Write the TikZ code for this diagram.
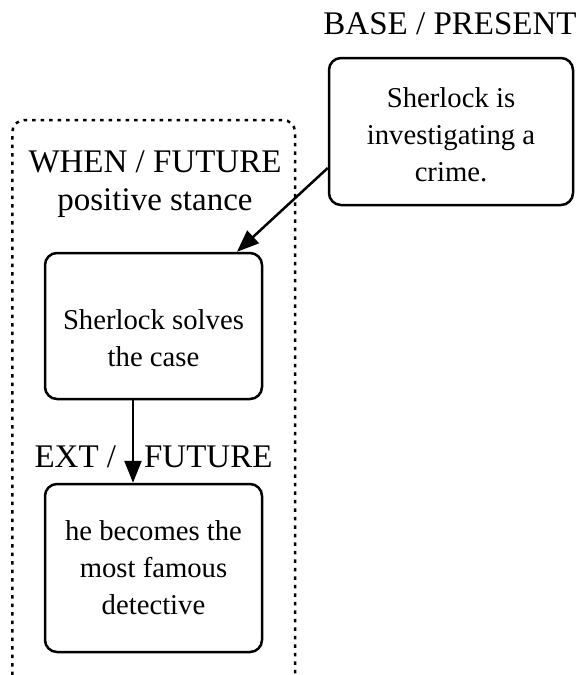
\documentclass[tikz,border=0pt]{standalone}
\usepackage{fontspec}
\setmainfont{Liberation Serif}
\usetikzlibrary{arrows.meta}
\begin{document}
\begin{tikzpicture}[x=1pt,y=-1pt,
  boxtext/.style={align=center,inner sep=0pt,font=\fontsize{28.7}{37}\selectfont},
  box/.style={draw,line width=2.5pt,rounded corners=12pt,boxtext},
  lbl/.style={align=center,inner sep=0pt,font=\fontsize{33}{38}\selectfont},
  arr/.style={line width=2.5pt,-{Triangle[length=22pt,width=17pt]}},
  clus/.style={line width=2.5pt,dash pattern=on 3.5pt off 5pt,rounded corners=12pt}]
\useasboundingbox (0,0) rectangle (584,675);
\draw[clus] (12.3,675) -- (12.3,120) -- (295,120) -- (295,675);
\node[lbl] (whenlbl) at (155,184) {WHEN / FUTURE\\positive stance};
\node[lbl] (baselbl) at (450,24) {BASE / PRESENT};
\node[box,minimum width=244pt,minimum height=147pt,
  label={[boxtext,name=toptext,yshift=-3pt]center:Sherlock is\\investigating a\\crime.}] (top) at (451,131.5) {};
\node[box,minimum width=217pt,minimum height=146pt,
  label={[boxtext,name=b1text,yshift=-12pt]center:Sherlock solves\\the case}] (b1) at (153.5,326) {};
\node[box,minimum width=217pt,minimum height=168pt] (b2) at (153.5,568)
  {he becomes the\\most famous\\detective};
\node[lbl] (extlbl) at (153.5,457) {EXT /\hspace{28pt}FUTURE};
\draw[arr] ([yshift=-36.5pt]top.west) -- ([xshift=83.5pt]b1.north);
\draw[arr] ([xshift=-20.5pt]b1.south) -- ([xshift=-20.5pt]b2.north);
\end{tikzpicture}
\end{document}
